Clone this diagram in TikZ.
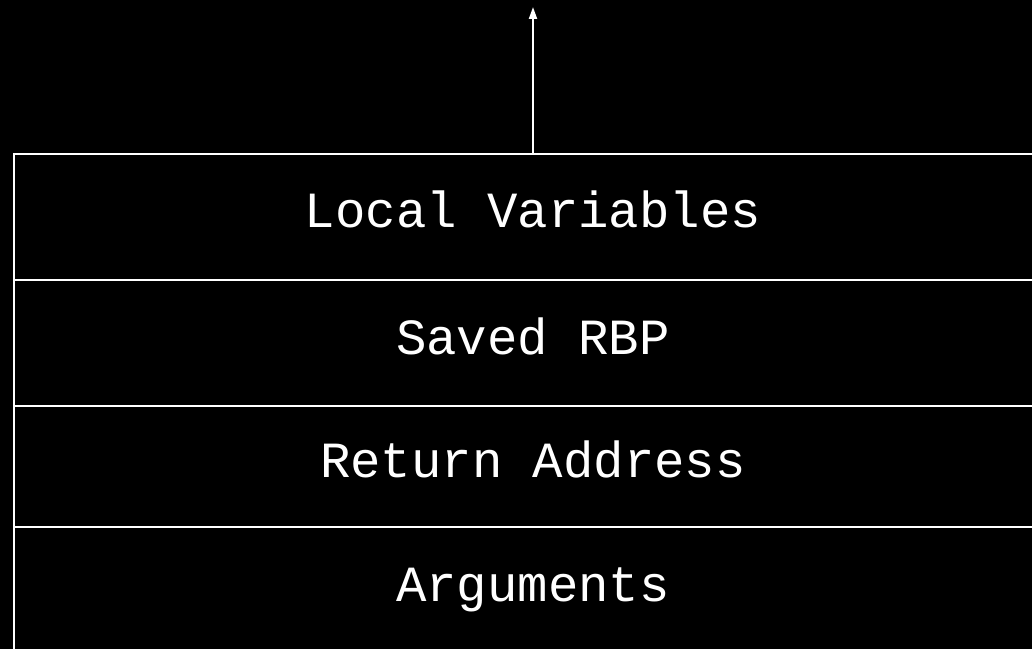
\documentclass[tikz,border=0pt]{standalone}
\usepackage{fontspec}
\setmonofont{Liberation Mono}
\usetikzlibrary{arrows.meta}

\tikzset{slot/.style={draw=white, line width=1.5pt, minimum width=778.5pt, inner sep=0pt, outer sep=0pt,
  text=white, font=\ttfamily\fontsize{38}{40}\selectfont, text height=27pt, text depth=10.5pt}}

\begin{document}
\begin{tikzpicture}[x=0.75pt,y=-0.75pt]
\fill [black] (0,0) rectangle (1032,649);
\useasboundingbox (0,0) rectangle (1032,649);
\clip (0,0) rectangle (1032,649);
\node [slot, minimum height=94.5pt] (locals) at (533,217) {Local Variables};
\node [slot, minimum height=94.5pt] (rbp) at (533,343) {Saved RBP};
\node [slot, minimum height=90.75pt] (ret) at (533,466.5) {Return Address};
\node [slot, minimum height=94.5pt] (args) at (533,590) {Arguments};
\coordinate (grow) at (533,7);
\draw [white, line width=1.5pt, -{Triangle[length=9pt,width=6pt]}] (locals.north) -- (grow);
\end{tikzpicture}
\end{document}
